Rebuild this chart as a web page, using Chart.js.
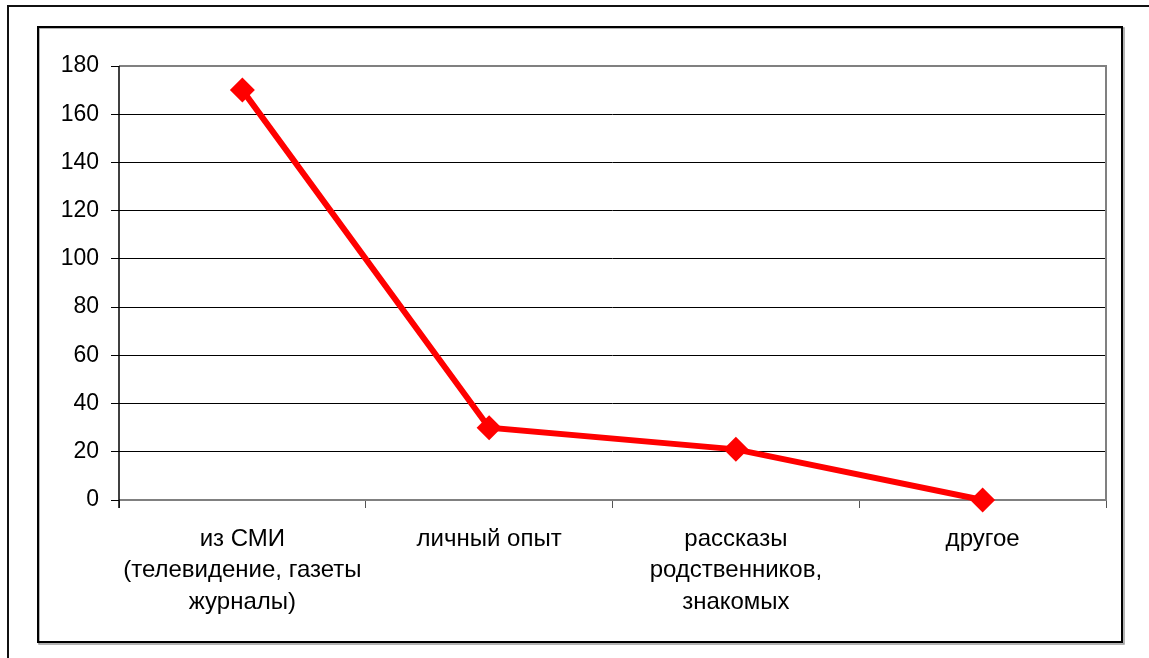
<!DOCTYPE html>
<html><head><meta charset="utf-8">
<script src="https://cdn.jsdelivr.net/npm/chart.js@4"></script>
<style>html,body{margin:0;padding:0;background:#fff;}#w{position:relative;width:1149px;height:658px;}</style>
</head><body><div id="w"><canvas id="c" width="1149" height="658"></canvas></div>
<script>
const categories = [["из СМИ","(телевидение, газеты","журналы)"],["личный опыт"],["рассказы","родственников,","знакомых"],["другое"]];
const values = [170, 30, 21, 0];
const yMin = 0, yMax = 180, yStep = 20;

const frame = {
  id: 'frame',
  beforeDraw(chart){
    const ctx = chart.ctx;
    ctx.save();
    ctx.fillStyle = '#fff'; ctx.fillRect(0,0,chart.width,chart.height);
    ctx.strokeStyle = '#111'; ctx.lineWidth = 2;
    ctx.beginPath(); ctx.moveTo(8, 700); ctx.lineTo(8, 6); ctx.lineTo(1200, 6); ctx.stroke();
    ctx.strokeStyle = '#999'; ctx.lineWidth = 1.5;
    ctx.strokeRect(39, 28, 1085, 616);
    ctx.strokeStyle = '#000'; ctx.lineWidth = 2;
    ctx.strokeRect(38, 27, 1084, 615);
    ctx.restore();
  },
  beforeDatasetsDraw(chart){
    const {ctx, chartArea:a} = chart;
    ctx.save();
    ctx.strokeStyle = '#808080'; ctx.lineWidth = 2;
    ctx.beginPath(); ctx.moveTo(a.left, a.top); ctx.lineTo(a.right, a.top); ctx.lineTo(a.right, a.bottom); ctx.lineTo(a.left, a.bottom); ctx.stroke();
    ctx.strokeStyle = '#000'; ctx.lineWidth = 1.5;
    ctx.beginPath(); ctx.moveTo(a.left, a.top); ctx.lineTo(a.left, a.bottom+8); ctx.stroke();
    ctx.restore();
  }
};

new Chart(document.getElementById('c'), {
  type: 'line',
  data: { labels: categories, datasets: [{ data: values, clip: false, borderColor: '#ff0000', backgroundColor: '#ff0000', borderWidth: 6, pointStyle: 'rectRot', pointRadius: 12.5, pointHoverRadius: 12.5, pointBorderWidth: 0, tension: 0, fill: false }] },
  options: {
    responsive: false, animation: false,
    layout: { padding: { left: 0, top: 66, right: 43, bottom: 0 } },
    plugins: { legend: { display: false }, tooltip: { enabled: false } },
    scales: {
      x: {
        offset: true,
        grid: { offset: true, drawOnChartArea: false, drawTicks: true, tickLength: 8, color: '#555', lineWidth: 1 },
        border: { display: false },
        ticks: { color: '#000', font: { family: 'Liberation Sans, Arial', size: 24, lineHeight: 1.3 }, padding: 16, maxRotation: 0, autoSkip: false },
        afterFit(s){ s.height = 158; }
      },
      y: {
        min: yMin, max: yMax,
        grid: { color: (c) => (c.tick && (c.tick.value === yMax || c.tick.value === yMin)) ? 'rgba(0,0,0,0)' : '#000', lineWidth: 1, tickLength: 8, tickColor: '#000' },
        border: { display: false },
        ticks: { stepSize: yStep, color: '#000', font: { family: 'Liberation Sans, Arial', size: 23 }, padding: 12 },
        afterFit(s){ s.width = 119; }
      }
    }
  },
  plugins: [frame]
});
</script></body></html>
